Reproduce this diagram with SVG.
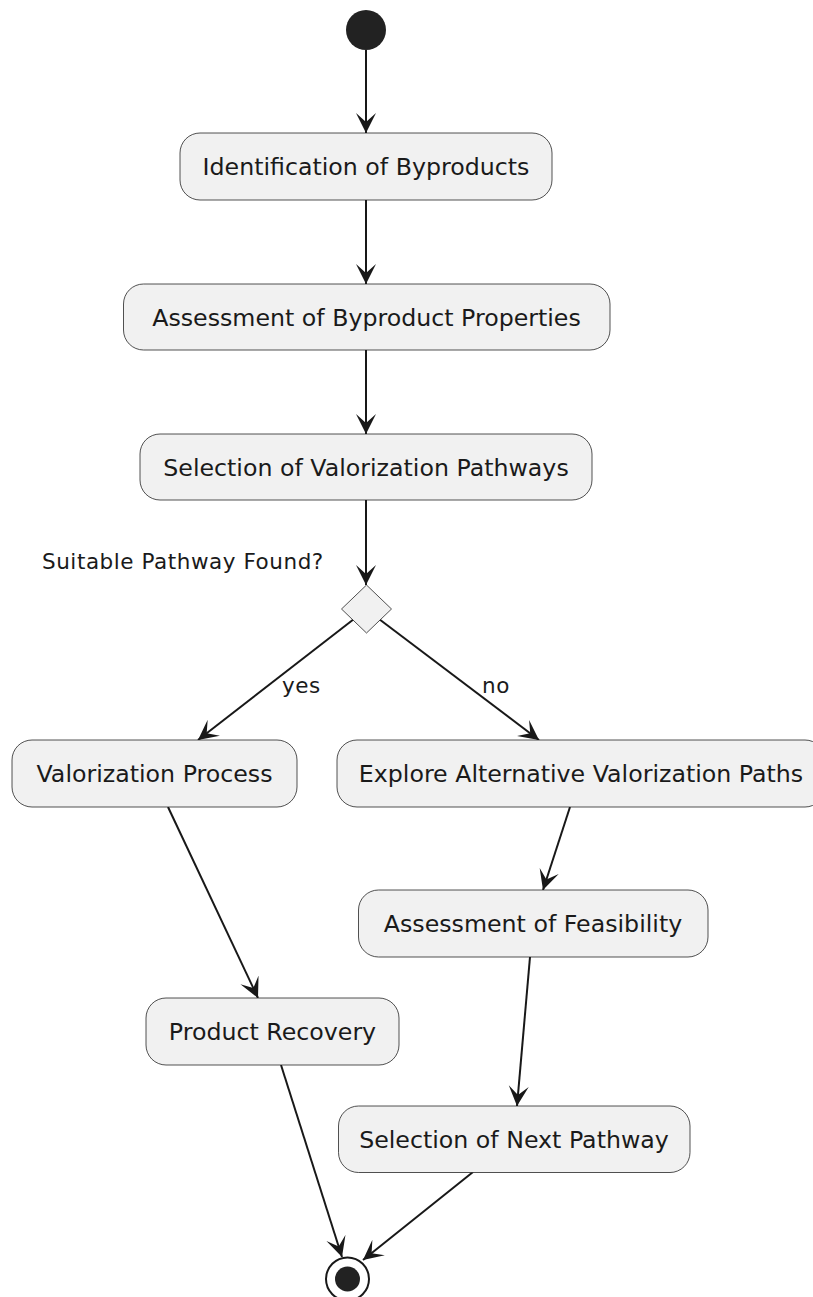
<svg xmlns="http://www.w3.org/2000/svg" width="813" height="1297" viewBox="0 0 813 1297">
<style>
  .box { fill: #F1F1F1; stroke: #181818; stroke-width: 1; stroke-opacity: 0.75; }
  .txt { font-family: "DejaVu Sans", sans-serif; font-size: 23.7px; fill: #1a1a1a; text-anchor: middle; }
  .lbl { font-family: "DejaVu Sans", sans-serif; font-size: 21.5px; fill: #1a1a1a; letter-spacing: 0.55px; }
  .edge { stroke: #181818; stroke-width: 2; fill: none; marker-end: url(#arrow); }
</style>
<defs>
  <marker id="arrow" markerUnits="userSpaceOnUse" markerWidth="24" markerHeight="24" refX="20" refY="10" orient="auto" viewBox="0 0 24 24">
    <path d="M20,10 L0,0 L9,10 L0,20 Z" fill="#181818"/>
  </marker>
</defs>
<rect width="813" height="1297" fill="#FFFFFF"/>
<g id="connectors">
  <line class="edge" x1="366" y1="50" x2="366" y2="133"/>
  <line class="edge" x1="366" y1="200" x2="366" y2="284"/>
  <line class="edge" x1="366" y1="350" x2="366" y2="434"/>
  <line class="edge" x1="366" y1="500" x2="366" y2="585"/>
  <line class="edge" x1="354" y1="619" x2="198" y2="740"/>
  <line class="edge" x1="379" y1="619" x2="539" y2="740"/>
  <line class="edge" x1="168" y1="807" x2="258" y2="998"/>
  <line class="edge" x1="570" y1="807" x2="543" y2="890"/>
  <line class="edge" x1="530" y1="957" x2="517" y2="1106"/>
  <line class="edge" x1="281" y1="1065" x2="342" y2="1257"/>
  <line class="edge" x1="473" y1="1172" x2="363" y2="1260"/>
  <text class="lbl" x="282" y="693">yes</text>
  <text class="lbl" x="482" y="693">no</text>
</g>
<g id="start">
  <circle cx="366" cy="30" r="20" fill="#222222"/>
</g>
<g id="n1">
  <rect class="box" x="180" y="133" width="372" height="67" rx="20" ry="20"/>
  <text class="txt" x="366" y="175">Identification of Byproducts</text>
</g>
<g id="n2">
  <rect class="box" x="123.5" y="284" width="486.5" height="66" rx="20" ry="20"/>
  <text class="txt" x="366.5" y="325.5">Assessment of Byproduct Properties</text>
</g>
<g id="n3">
  <rect class="box" x="140" y="434" width="452" height="66" rx="20" ry="20"/>
  <text class="txt" x="366" y="475.5">Selection of Valorization Pathways</text>
</g>
<g id="decision">
  <polygon class="box" points="366.5,585 391.5,609 366.5,633 341.5,609"/>
  <text class="lbl" x="42" y="569">Suitable Pathway Found?</text>
</g>
<g id="n4">
  <rect class="box" x="12" y="740" width="285" height="67" rx="20" ry="20"/>
  <text class="txt" x="154.5" y="782">Valorization Process</text>
</g>
<g id="n5">
  <rect class="box" x="337" y="740" width="488" height="67" rx="20" ry="20"/>
  <text class="txt" x="581" y="782">Explore Alternative Valorization Paths</text>
</g>
<g id="n6">
  <rect class="box" x="358.5" y="890" width="349.5" height="67" rx="20" ry="20"/>
  <text class="txt" x="533" y="932">Assessment of Feasibility</text>
</g>
<g id="n7">
  <rect class="box" x="146" y="998" width="253" height="67" rx="20" ry="20"/>
  <text class="txt" x="272.5" y="1040">Product Recovery</text>
</g>
<g id="n8">
  <rect class="box" x="338.5" y="1106" width="351.5" height="66.5" rx="20" ry="20"/>
  <text class="txt" x="514" y="1148">Selection of Next Pathway</text>
</g>
<g id="end">
  <circle cx="347.5" cy="1279" r="21.5" fill="#FFFFFF" stroke="#181818" stroke-width="2"/>
  <circle cx="347.5" cy="1279" r="12.5" fill="#222222"/>
</g>
</svg>
